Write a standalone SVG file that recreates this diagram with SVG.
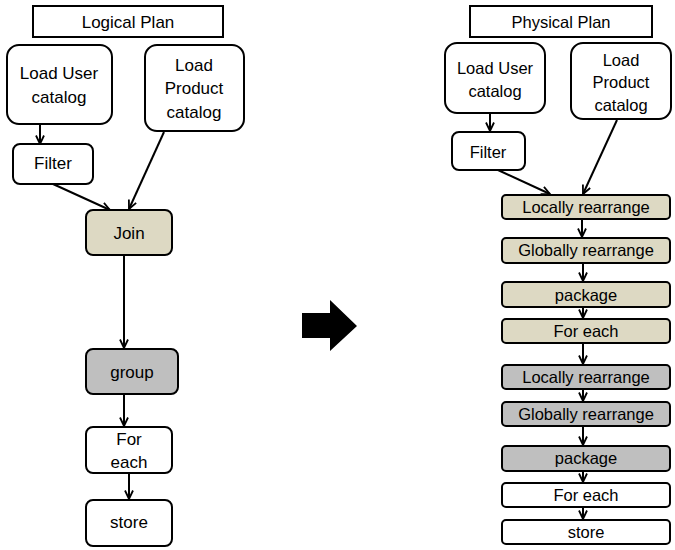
<svg xmlns="http://www.w3.org/2000/svg" width="675" height="550" viewBox="0 0 675 550">
<defs>
<marker id="ah" viewBox="0 0 10 10" refX="9.5" refY="5" markerWidth="10" markerHeight="10" markerUnits="userSpaceOnUse" orient="auto">
<path d="M1,1 L9.5,5 L1,9" fill="none" stroke="#000" stroke-width="1.8"/>
</marker>
<style>
text{font-family:"Liberation Sans",Arial,sans-serif;fill:#000;text-anchor:middle;dominant-baseline:central}
.l{font-size:17px}
.r{font-size:16.5px}
.box{stroke:#000;stroke-width:2}
.w{fill:#fff}
.t{fill:#DDD9C3}
.g{fill:#BFBFBF}
.c{stroke:#000;stroke-width:2;fill:none;marker-end:url(#ah)}
</style>
</defs>
<rect width="675" height="550" fill="#fff"/>

<g id="logical-title"><rect class="box w" x="33" y="6" width="190" height="31"/><text class="l" x="128" y="22">Logical Plan</text></g>
<g id="l-loaduser"><rect class="box w" x="7" y="45" width="105" height="79" rx="12"/><text class="l" x="59" y="73">Load User</text><text class="l" x="59" y="97">catalog</text></g>
<g id="l-loadproduct"><rect class="box w" x="145" y="45" width="99" height="86" rx="12"/><text class="l" x="194" y="65">Load</text><text class="l" x="194" y="88">Product</text><text class="l" x="194" y="112">catalog</text></g>
<g id="l-filter"><rect class="box w" x="13" y="144" width="80" height="40" rx="7"/><text class="l" x="53" y="163">Filter</text></g>
<g id="l-join"><rect class="box t" x="86" y="210" width="86" height="45" rx="7"/><text class="l" x="129" y="233">Join</text></g>
<g id="l-group"><rect class="box g" x="86" y="349" width="92" height="45" rx="7"/><text class="l" x="132" y="372">group</text></g>
<g id="l-foreach"><rect class="box w" x="86" y="427" width="86" height="46" rx="7"/><text class="l" x="129" y="439">For</text><text class="l" x="129" y="462">each</text></g>
<g id="l-store"><rect class="box w" x="86" y="500" width="86" height="46" rx="7"/><text class="l" x="129" y="522">store</text></g>

<g id="transform-arrow"><path d="M302,313 H330 V300 L357,326 L330,351 V338 H302 Z" fill="#000"/></g>

<g id="physical-title"><rect class="box w" x="470" y="6" width="182" height="31"/><text class="r" x="561" y="22">Physical Plan</text></g>
<g id="p-loaduser"><rect class="box w" x="445" y="43" width="100" height="70" rx="12"/><text class="r" x="495" y="68">Load User</text><text class="r" x="495" y="91">catalog</text></g>
<g id="p-loadproduct"><rect class="box w" x="571" y="43" width="100" height="76" rx="12"/><text class="r" x="621" y="60">Load</text><text class="r" x="621" y="82">Product</text><text class="r" x="621" y="105">catalog</text></g>
<g id="p-filter"><rect class="box w" x="452" y="132" width="73" height="38" rx="7"/><text class="r" x="488" y="152">Filter</text></g>
<g id="p-local1"><rect class="box t" x="502" y="195" width="168" height="24" rx="4"/><text class="r" x="586" y="207">Locally rearrange</text></g>
<g id="p-global1"><rect class="box t" x="502" y="238" width="168" height="25" rx="4"/><text class="r" x="586" y="250">Globally rearrange</text></g>
<g id="p-package1"><rect class="box t" x="502" y="282" width="168" height="25" rx="4"/><text class="r" x="586" y="295">package</text></g>
<g id="p-foreach1"><rect class="box t" x="502" y="319" width="168" height="24" rx="4"/><text class="r" x="586" y="331">For each</text></g>
<g id="p-local2"><rect class="box g" x="502" y="365" width="168" height="24" rx="4"/><text class="r" x="586" y="377">Locally rearrange</text></g>
<g id="p-global2"><rect class="box g" x="502" y="402" width="168" height="24" rx="4"/><text class="r" x="586" y="414">Globally rearrange</text></g>
<g id="p-package2"><rect class="box g" x="502" y="446" width="168" height="25" rx="4"/><text class="r" x="586" y="458">package</text></g>
<g id="p-foreach2"><rect class="box w" x="502" y="483" width="168" height="24" rx="4"/><text class="r" x="586" y="495">For each</text></g>
<g id="p-store"><rect class="box w" x="502" y="520" width="168" height="24" rx="4"/><text class="r" x="586" y="532">store</text></g>

<g id="connectors">
<line class="c" x1="40" y1="124" x2="40" y2="144"/>
<line class="c" x1="53" y1="184" x2="110" y2="210"/>
<line class="c" x1="164" y1="132" x2="129" y2="209"/>
<line class="c" x1="124" y1="255" x2="124" y2="348"/>
<line class="c" x1="124" y1="394" x2="124" y2="426"/>
<line class="c" x1="129" y1="473" x2="129" y2="499"/>

<line class="c" x1="490" y1="113" x2="490" y2="131"/>
<line class="c" x1="498" y1="170" x2="550" y2="194"/>
<line class="c" x1="617" y1="120" x2="583" y2="194"/>
<line class="c" x1="582" y1="219" x2="582" y2="237"/>
<line class="c" x1="583" y1="263" x2="583" y2="281"/>
<line class="c" x1="583" y1="307" x2="583" y2="318"/>
<line class="c" x1="583" y1="343" x2="583" y2="364"/>
<line class="c" x1="583" y1="389" x2="583" y2="401"/>
<line class="c" x1="583" y1="426" x2="583" y2="445"/>
<line class="c" x1="583" y1="471" x2="583" y2="482"/>
<line class="c" x1="583" y1="507" x2="583" y2="519"/>
</g>
</svg>
